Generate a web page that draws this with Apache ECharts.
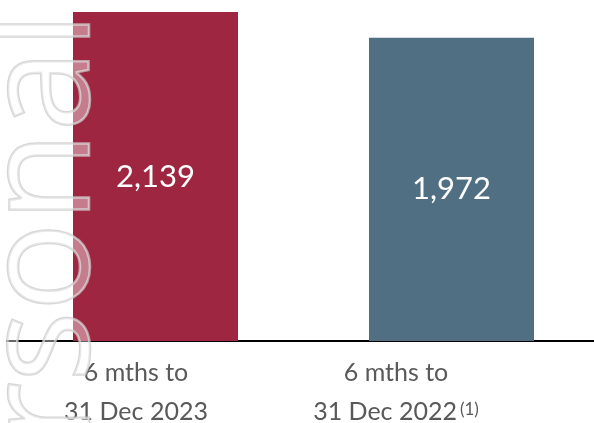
<!DOCTYPE html>
<html>
<head>
<meta charset="utf-8">
<script src="https://cdn.jsdelivr.net/npm/echarts@6/dist/echarts.min.js"></script>
<style>html,body{margin:0;padding:0;background:#fff}#c{width:594px;height:423px}</style>
</head>
<body>
<div id="c"></div>
<script>
const categories = ['6 mths to\n31 Dec 2023', '6 mths to\n31 Dec 2022'];
const footnotes = ['', '(1)'];
const values = [2139, 1972];
const barColors = ['#9E2641', '#516F83'];
const watermark = 'personal';

const chart = echarts.init(document.getElementById('c'));
chart.setOption({
  animation: false,
  grid: [
    { left: 155.5, width: 296, top: 12, height: 329, outerBoundsMode: 'none', containLabel: false },
    { left: 136, width: 260, top: 12, height: 329, outerBoundsMode: 'none', containLabel: false },
    { left: 7, right: 0, top: 12, height: 329, outerBoundsMode: 'none', containLabel: false }
  ],
  xAxis: [
    { type: 'category', gridIndex: 0, data: categories, boundaryGap: false,
      axisLine: { show: false }, axisTick: { show: false }, axisLabel: { show: false }, splitLine: { show: false } },
    { type: 'category', gridIndex: 1, data: categories, boundaryGap: false,
      axisLine: { show: false }, axisTick: { show: false }, splitLine: { show: false },
      axisLabel: {
        interval: 0, margin: 12, fontSize: 25, lineHeight: 39, color: '#595959', fontFamily: 'Lato',
        formatter: (v, i) => v + (footnotes[i] ? '{sup|' + footnotes[i] + '}' : ''),
        rich: { sup: { fontSize: 17, color: '#595959', fontFamily: 'Lato', lineHeight: 39, padding: [0, 0, 3, 3] } }
      } },
    { type: 'category', gridIndex: 2, data: categories,
      axisLine: { lineStyle: { color: '#000', width: 2 } },
      axisTick: { show: false }, axisLabel: { show: false }, splitLine: { show: false } }
  ],
  yAxis: [0, 1, 2].map(g => ({ type: 'value', gridIndex: g, min: 0, max: values[0], show: false, splitLine: { show: false } })),
  series: [{
    type: 'bar', xAxisIndex: 0, yAxisIndex: 0, barWidth: 165, clip: false,
    data: values.map((v, i) => ({ value: v, itemStyle: { color: barColors[i] } })),
    label: { show: true, position: 'inside', color: '#fff', fontSize: 31, fontFamily: 'Lato',
      formatter: p => p.value.toLocaleString('en-US') }
  }],
  graphic: [{
    type: 'text', z: 100, x: 47, y: 12, rotation: Math.PI / 2,
    style: { text: watermark, font: '148px "Open Sans"', align: 'right', verticalAlign: 'middle',
      fill: 'rgba(255,255,255,0.4)', stroke: 'rgba(200,200,200,0.75)', lineWidth: 2.5 }
  }]
});
</script>
</body>
</html>
